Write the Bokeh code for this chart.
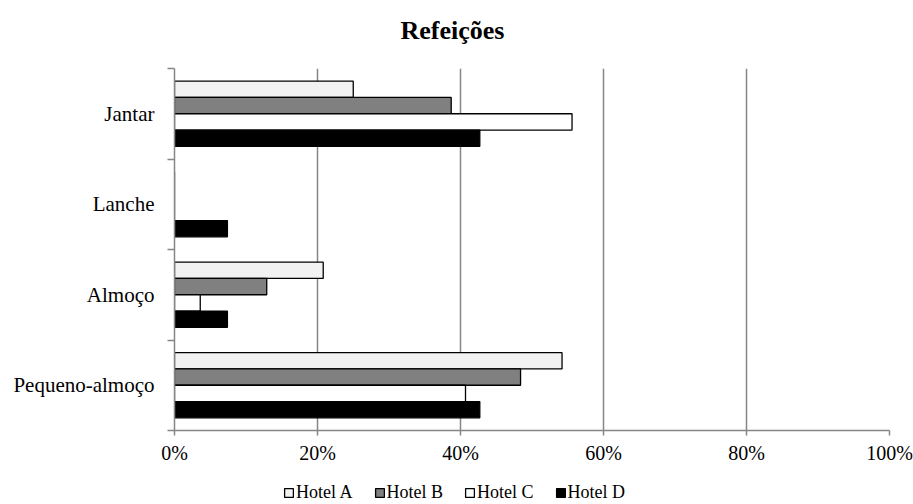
from bokeh.plotting import figure
from bokeh.layouts import column
from bokeh.models import (ColumnDataSource, FixedTicker, NumeralTickFormatter, Legend,
                          LegendItem, Range1d, Label)
from bokeh.transform import dodge
from bokeh.embed import file_html
from bokeh.resources import INLINE

categories = ["Pequeno-almoço", "Almoço", "Lanche", "Jantar"]
hotels = ["Hotel A", "Hotel B", "Hotel C", "Hotel D"]
hotel_a = [0.542, 0.208, 0.0, 0.250]
hotel_b = [0.484, 0.129, 0.0, 0.387]
hotel_c = [0.407, 0.036, 0.0, 0.556]
hotel_d = [0.427, 0.074, 0.074, 0.427]
colors = ["#f2f2f2", "#808080", "#ffffff", "#000000"]
x_ticks = [0, 0.2, 0.4, 0.6, 0.8, 1.0]
title_text = "Refeições"

FONT = "Liberation Serif"
pos = [i + 0.5 for i in range(len(categories))]
src = ColumnDataSource(dict(pos=pos, a=hotel_a, b=hotel_b, c=hotel_c, d=hotel_d))
fields = ["a", "b", "c", "d"]
bar_h = 0.18
offsets = [1.5 * bar_h, 0.5 * bar_h, -0.5 * bar_h, -1.5 * bar_h]

# ---- title strip (frame aligned with the chart's frame in the column) ----
tt = figure(width=913, height=46, output_backend="svg", toolbar_location=None,
            x_axis_location=None, y_axis_location=None,
            x_range=Range1d(0, 1), y_range=Range1d(0, 1),
            min_border_left=0, min_border_right=0, min_border_top=0, min_border_bottom=0)
tt.grid.grid_line_color = None
tt.outline_line_color = None
tt.add_layout(Label(x=278, y=16, x_units="screen", y_units="screen", text=title_text,
                    text_font=FONT, text_font_size="26px", text_font_style="bold",
                    text_color="black", text_align="center", text_baseline="middle"))

# ---- main chart ----
p = figure(width=913, height=424, output_backend="svg", toolbar_location=None,
           x_range=Range1d(0, 1.0), y_range=Range1d(0, len(categories)),
           min_border_left=174, min_border_right=24, min_border_top=22,
           min_border_bottom=40)

for field, col, off in zip(fields, colors, offsets):
    p.hbar(y=dodge("pos", off), right=field, left=0, height=bar_h, source=src,
           fill_color=col, line_color="black", line_width=1.3)

p.xaxis.ticker = FixedTicker(ticks=x_ticks)
p.xaxis.formatter = NumeralTickFormatter(format="0%")
p.yaxis.ticker = FixedTicker(ticks=pos, minor_ticks=list(range(len(categories) + 1)))
p.yaxis.major_label_overrides = {v: c for v, c in zip(pos, categories)}

for ax in [p.xaxis[0], p.yaxis[0]]:
    ax.axis_line_color = "#868686"
    ax.axis_line_width = 1.5
    ax.major_tick_line_color = "#868686"
    ax.major_tick_line_width = 1.5
    ax.minor_tick_line_color = "#868686"
    ax.minor_tick_line_width = 1.5
    ax.major_label_text_font = FONT
    ax.major_label_text_color = "black"
    ax.major_tick_in = 0

p.xaxis.major_label_text_font_size = "20px"
p.yaxis.major_label_text_font_size = "21px"
p.xaxis.major_tick_out = 5
p.xaxis.minor_tick_out = 0
p.xaxis.major_label_standoff = 6
p.yaxis.major_tick_out = 0
p.yaxis.minor_tick_out = 7
p.yaxis.minor_tick_in = 0
p.yaxis.major_label_standoff = 13

p.ygrid.grid_line_color = None
p.xgrid.grid_line_color = "#868686"
p.xgrid.grid_line_width = 1.5
p.outline_line_color = None

# ---- legend strip ----
lg = figure(width=913, height=34, output_backend="svg", toolbar_location=None,
            x_axis_location=None, y_axis_location=None,
            x_range=Range1d(-2, -1), y_range=Range1d(100, 101),
            min_border_left=0, min_border_right=0, min_border_top=0, min_border_bottom=0)
lg.grid.grid_line_color = None
lg.outline_line_color = None
swatches = []
for field, col, off in zip(fields, colors, offsets):
    r = lg.hbar(y=dodge("pos", off), right=field, left=0, height=bar_h, source=src,
                fill_color=col, line_color="black", line_width=1.3)
    r.visible = False
    swatches.append(r)

legend = Legend(items=[LegendItem(label=h, renderers=[r]) for h, r in zip(hotels, swatches)],
                orientation="horizontal", location=(109, 1),
                glyph_width=11, glyph_height=11, label_text_font=FONT,
                label_text_font_size="18px", label_text_color="black",
                label_standoff=2, spacing=21, click_policy="none",
                border_line_color=None, background_fill_alpha=0,
                padding=0, margin=0, label_height=16)
lg.add_layout(legend, "center")

layout = column(tt, p, lg, spacing=0)
open("out.html", "w").write(file_html(layout, INLINE))
